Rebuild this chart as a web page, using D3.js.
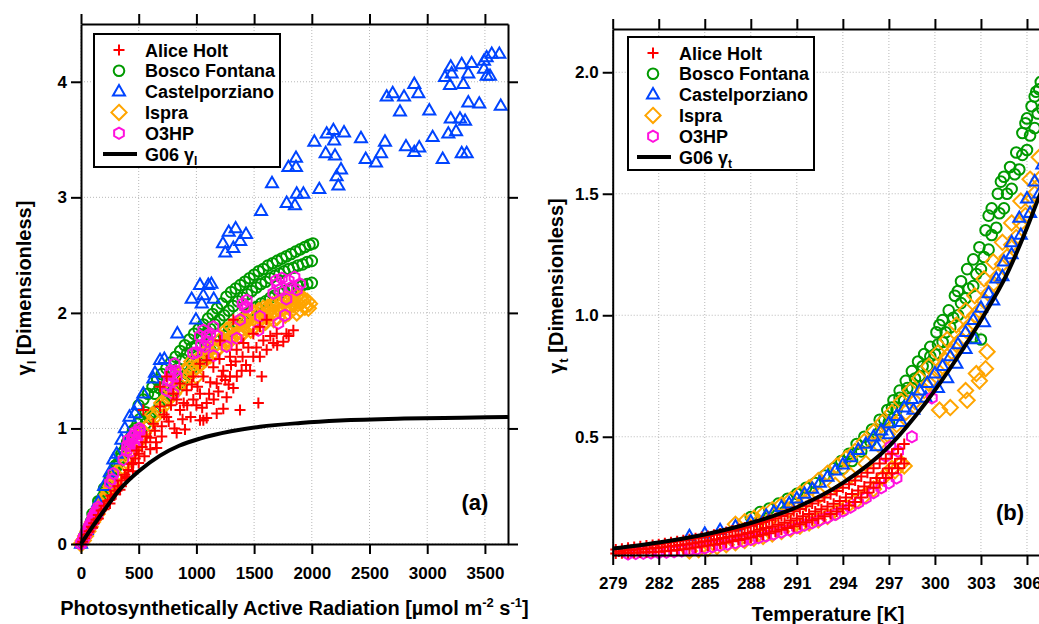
<!DOCTYPE html>
<html>
<head>
<meta charset="utf-8">
<script src="https://cdn.jsdelivr.net/npm/d3@7"></script>
<style>
  body { margin: 0; background: #fff; }
  svg { font-family: "Liberation Sans", Arial, sans-serif; font-weight: bold; }
</style>
</head>
<body>
<svg id="chart" width="1039" height="624"></svg>
<script>
// ---- sites / legend ----
const siteNames = ['Alice Holt', 'Bosco Fontana', 'Castelporziano', 'Ispra', 'O3HP'];
const siteColors = ['#ff0000', '#009a00', '#0044ff', '#ffa500', '#ff11dd'];
const siteShapes = ['cross', 'circle', 'triangle', 'diamond', 'hexagon'];

// ---- panel (a): PAR [umol m-2 s-1] vs gamma_l ----
const parTicks = [0, 500, 1000, 1500, 2000, 2500, 3000, 3500];
const gammaLTicks = [0, 1, 2, 3, 4];

const aliceL = [
  [0,0],[15,0.02],[30,0.05],[50,0.08],[70,0.11],[90,0.15],[100,0.14],[110,0.18],[130,0.21],[150,0.25],[150,0.22],[175,0.29],
  [200,0.33],[200,0.3],[230,0.37],[250,0.38],[251,0.35],[260,0.42],[290,0.46],[300,0.43],[320,0.5],[338,0.47],[350,0.55],[350,0.5],
  [380,0.6],[396,0.58],[400,0.57],[410,0.64],[440,0.69],[450,0.63],[453,0.7],[470,0.74],[482,0.81],[500,0.78],[500,0.7],[530,0.84],
  [540,1.16],[550,0.76],[560,0.88],[569,0.93],[600,0.92],[600,0.82],[627,1.04],[640,0.98],[650,0.88],[656,0.83],[685,1.19],[685,1.36],
  [700,1.02],[700,0.93],[720,1.12],[742,1.1],[742,1.45],[760,1.06],[780,1.2],[800,1.3],[810,1.0],[829,0.96],[829,1.25],[858,1.16],
  [858,1.39],[880,1.08],[890,1.22],[901,0.99],[916,1.33],[920,1.2],[950,1.1],[960,1.38],[973,1.45],[973,1.25],[1000,1.2],[1010,1.36],
  [1031,1.07],[1031,1.3],[1031,1.56],[1050,1.18],[1060,1.07],[1060,1.45],[1089,1.09],[1089,1.22],[1089,1.59],[1110,1.3],[1120,1.4],[1147,1.53],
  [1150,1.25],[1176,1.13],[1176,1.39],[1190,1.32],[1200,1.6],[1205,1.76],[1220,1.45],[1233,1.17],[1233,1.5],[1250,1.42],[1262,1.27],[1280,1.38],
  [1291,1.45],[1291,1.62],[1300,1.55],[1320,1.35],[1320,1.94],[1340,1.58],[1349,1.68],[1350,1.45],[1378,1.16],[1392,1.5],[1400,1.62],[1407,1.74],
  [1430,1.55],[1450,1.7],[1465,1.5],[1493,1.62],[1493,1.82],[1520,1.7],[1537,1.22],[1550,1.62],[1551,1.88],[1566,1.45],[1580,1.76],[1609,1.68],
  [1609,1.94],[1640,1.8],[1667,1.74],[1696,1.82],[1700,1.72],[1753,1.75],[1780,1.82],[1800,1.8],[1840,1.85]
];
const boscoL = [
  [10,0.02],[30,0.07],[50,0.11],[70,0.15],[90,0.2],[100,0.26],[110,0.24],[130,0.28],[150,0.33],[150,0.37],[170,0.37],[190,0.41],
  [200,0.48],[210,0.46],[230,0.5],[250,0.54],[250,0.58],[270,0.58],[290,0.63],[300,0.68],[310,0.67],[330,0.71],[350,0.75],[350,0.78],
  [370,0.8],[390,0.84],[400,0.88],[410,0.88],[430,0.92],[450,0.96],[450,0.98],[470,1.0],[490,1.04],[510,1.08],
  // upper edge
  [500,1.2],[540,1.25],[580,1.3],[620,1.36],[660,1.42],[700,1.47],[740,1.52],[780,1.57],[820,1.62],[860,1.67],[900,1.72],[940,1.77],
  [980,1.82],[1020,1.86],[1060,1.9],[1100,1.95],[1140,1.99],[1180,2.04],[1220,2.08],[1260,2.14],[1300,2.18],[1340,2.21],[1380,2.24],[1420,2.27],
  [1460,2.3],[1500,2.33],[1540,2.36],[1580,2.38],[1620,2.41],[1660,2.43],[1700,2.45],[1740,2.47],[1780,2.49],[1820,2.51],[1860,2.53],[1900,2.55],
  [1940,2.57],[1980,2.59],[2010,2.6],
  // middle
  [560,1.14],[600,1.12],[640,1.3],[680,1.35],[720,1.3],[760,1.42],[800,1.5],[840,1.52],[880,1.6],[920,1.65],[960,1.7],[1000,1.72],
  [1040,1.78],[1080,1.82],[1120,1.86],[1160,1.9],[1200,1.94],[1240,1.98],[1280,2.02],[1320,2.06],[1360,2.1],[1400,2.13],[1440,2.16],[1480,2.19],
  [1520,2.22],[1560,2.25],[1600,2.27],[1640,2.3],[1680,2.32],[1720,2.34],[1760,2.36],[1800,2.38],[1840,2.39],[1880,2.41],[1920,2.42],[1960,2.44],
  [2000,2.45],
  // lower edge
  [520,0.99],[560,1.04],[600,1.09],[640,1.14],[680,1.19],[720,1.24],[760,1.29],[800,1.33],[840,1.38],[880,1.42],[920,1.47],[960,1.52],
  [1000,1.56],[1040,1.6],[1080,1.64],[1120,1.68],[1160,1.72],[1200,1.76],[1240,1.8],[1280,1.84],[1320,1.88],[1360,1.91],[1400,1.95],[1440,1.99],
  [1480,2.02],[1520,2.05],[1560,2.08],[1600,2.1],[1640,2.13],[1680,2.15],[1720,2.17],[1760,2.19],[1800,2.2],[1840,2.21],[1880,2.23],[1920,2.24],
  [1960,2.25],[2000,2.26]
];
const castelL = [
  [0,0],[50,0.12],[100,0.24],[150,0.36],[200,0.5],[250,0.62],[280,0.73],[309,0.78],[350,0.9],[380,1.0],
  [420,1.1],[468,1.13],[491,1.2],[540,1.3],[627,1.43],[641,1.48],[685,1.59],[722,1.6],[835,1.82],[959,2.12],
  [996,1.94],[1031,2.24],[1046,2.08],[1060,2.15],[1103,2.24],[1130,2.25],[1150,2.12],[1230,2.6],[1250,2.52],[1280,2.7],
  [1320,2.56],[1340,2.73],[1380,2.62],[1430,2.68],[1560,2.88],[1655,3.12],
  [1782,2.95],[1854,2.93],[1869,3.03],[1927,3.03],[2065,3.07],[1797,3.26],[1863,3.34],[1863,3.26],[2022,3.48],[2120,3.38],
  [2129,3.55],[2187,3.58],[2193,3.49],[2201,3.36],[2279,3.56],[2215,3.18],[2253,3.24],[2230,3.1],[2426,3.51],[2467,3.33],
  [2556,3.3],[2600,3.38],[2634,3.48],[2649,3.87],[2701,3.9],[2799,3.87],[2764,3.74],[2888,3.98],[2923,3.9],[2816,3.44],
  [2888,3.39],[2931,3.43],[3018,3.75],[3047,3.52],[3134,3.33],[3183,3.55],[3204,3.68],[3250,3.57],[3284,3.68],[3328,3.66],
  [3299,3.38],[3342,3.38],[3356,3.82],[3451,3.81],[3637,3.79],[3154,4.04],[3204,4.13],[3212,4.07],[3197,3.97],[3299,4.15],
  [3313,3.98],[3356,4.07],[3385,4.16],[3492,4.18],[3515,4.21],[3559,4.24],[3625,4.24],[3492,4.11],[3515,4.05],[3544,4.05]
];
const ispraL = [
  [0,0],[20,0.03],[40,0.07],[60,0.11],[80,0.15],[100,0.19],[120,0.22],[140,0.26],[160,0.3],[180,0.34],
  [200,0.38],[220,0.42],[240,0.46],[260,0.5],[280,0.53],[300,0.57],[330,0.62],[360,0.67],[390,0.72],[420,0.77],
  [450,0.82],[480,0.87],[510,0.92],[540,0.96],[570,1.0],[600,1.04],[620,1.12],[640,1.1],[680,1.16],[700,1.22],[720,1.2],[760,1.26],
  [780,1.33],[800,1.3],[840,1.35],[860,1.42],[880,1.4],[900,1.5],[920,1.44],[940,1.52],[960,1.49],[960,1.58],[1000,1.53],[1000,1.45],
  [1020,1.6],[1040,1.56],[1040,1.62],[1080,1.6],[1100,1.68],[1120,1.63],[1140,1.7],[1160,1.67],[1200,1.7],[1220,1.78],[1240,1.74],[1260,1.85],
  [1270,1.74],[1280,1.77],[1300,1.88],[1300,1.78],[1320,1.8],[1330,1.86],[1340,1.9],[1360,1.83],[1370,1.8],[1380,1.93],[1400,1.86],[1400,1.82],
  [1420,1.95],[1430,1.92],[1440,1.88],[1460,1.97],[1470,1.85],[1480,1.9],[1500,2.0],[1500,1.88],[1520,1.93],[1530,1.98],[1540,2.02],[1560,1.95],
  [1570,1.9],[1580,2.04],[1600,1.97],[1600,1.92],[1620,2.05],[1630,2.02],[1640,1.99],[1660,2.07],[1670,1.94],[1680,2.0],[1700,2.09],[1700,1.96],
  [1720,2.02],[1730,2.06],[1740,2.1],[1760,2.04],[1770,1.98],[1780,2.12],[1800,2.05],[1800,2.0],[1820,2.12],[1830,2.09],[1840,2.07],[1860,2.14],
  [1870,2.0],[1880,2.08],[1900,2.13],[1900,2.03],[1920,2.1],[1930,2.12],[1940,2.05],[1960,2.1],[1970,2.04],[1980,2.08]
];
const o3hpL = [
  [0,0],[10,0.02],[20,0.04],[25,0.06],[30,0.06],[40,0.08],[45,0.1],[50,0.1],[60,0.12],[65,0.13],[70,0.15],[80,0.17],
  [85,0.16],[90,0.19],[100,0.22],[107,0.24],[110,0.2],[120,0.26],[125,0.27],[136,0.29],[140,0.25],[150,0.32],[160,0.3],[251,0.53],
  [270,0.56],[280,0.61],[367,0.73],[396,0.81],[400,0.85],[410,0.9],[420,0.85],[430,0.8],[440,0.9],[450,0.93],[460,0.94],[460,0.86],
  [470,0.97],[480,0.88],[490,0.92],[500,0.96],[505,1.0],[511,0.98],[742,1.33],[750,1.38],[760,1.42],[770,1.47],[780,1.5],[790,1.4],
  [800,1.3],[810,1.56],[820,1.5],[829,1.45],[971,1.65],[1002,1.66],[1030,1.8],[1040,1.72],[1060,1.85],[1075,1.71],[1090,1.8],[1100,1.75],
  [1120,1.82],[1147,1.63],[1147,1.88],[1178,1.8],[1262,1.71],[1349,1.78],[1378,1.94],[1400,2.08],[1420,2.05],[1436,2.11],[1440,2.05],[1537,1.85],
  [1551,1.97],[1667,2.17],[1690,2.28],[1700,2.25],[1710,1.91],[1720,2.2],[1740,2.3],[1768,1.98],[1780,2.12],[1800,2.28],[1820,2.22],[1850,2.31],
  [1870,2.2],[1898,2.25]
];
// G06 light response
const g06L = [
  [0,0],[100,0.15],[200,0.29],[338,0.475],[500,0.63],[685,0.765],[850,0.85],[1031,0.912],[1300,0.975],[1551,1.015],
  [1900,1.047],[2244,1.068],[2800,1.085],[3300,1.093],[3700,1.1]
];

// ---- panel (b): temperature [K] vs gamma_t ----
const tempTicks = [279, 282, 285, 288, 291, 294, 297, 300, 303, 306];
const gammaTTicks = [0.5, 1.0, 1.5, 2.0];

const aliceT = [
  // just under the G06 line
  [279.2,0.036],[279.6,0.039],[280.0,0.043],[280.4,0.046],[280.8,0.049],[281.2,0.052],[281.6,0.055],[282.0,0.058],
  [282.4,0.062],[282.8,0.066],[283.2,0.07],[283.6,0.074],[284.0,0.078],[284.4,0.082],[284.8,0.087],[285.2,0.092],
  [285.6,0.097],[286.0,0.102],[286.4,0.108],[286.8,0.114],[287.2,0.12],[287.6,0.127],[288.0,0.134],[288.4,0.141],
  [288.8,0.149],[289.2,0.157],[289.6,0.165],[290.0,0.174],[290.4,0.183],[290.8,0.193],[291.2,0.203],[291.6,0.214],
  [292.0,0.225],[292.4,0.237],[292.8,0.25],[293.2,0.263],[293.6,0.277],[294.0,0.29],[294.4,0.305],[294.8,0.32],
  [295.2,0.336],[295.6,0.352],[296.0,0.37],[296.4,0.39],[296.8,0.41],[297.2,0.43],[297.6,0.45],[298.0,0.47],
  // middle of the band
  [279.4,0.028],[279.8,0.031],[280.2,0.034],[280.6,0.036],[281.0,0.038],[281.4,0.04],[281.8,0.042],[282.2,0.045],
  [282.6,0.048],[283.0,0.051],[283.4,0.055],[283.8,0.058],[284.2,0.062],[284.6,0.066],[285.0,0.07],[285.4,0.074],
  [285.8,0.078],[286.2,0.083],[286.6,0.088],[287.0,0.093],[287.4,0.098],[287.8,0.104],[288.2,0.11],[288.6,0.117],
  [289.0,0.124],[289.4,0.131],[289.8,0.138],[290.2,0.146],[290.6,0.155],[291.0,0.164],[291.4,0.173],[291.8,0.182],
  [292.2,0.192],[292.6,0.202],[293.0,0.213],[293.4,0.224],[293.8,0.236],[294.2,0.25],[294.6,0.264],[295.0,0.279],
  [295.4,0.295],[295.8,0.312],[296.2,0.33],[296.6,0.35],[297.0,0.37],[297.4,0.39],[297.8,0.41],
  // lower edge
  [279.2,0.02],[279.6,0.021],[280.0,0.022],[280.4,0.023],[280.8,0.024],[281.2,0.025],[281.6,0.026],[282.0,0.027],
  [282.4,0.029],[282.8,0.031],[283.2,0.034],[283.6,0.037],[284.0,0.04],[284.4,0.044],[284.8,0.048],[285.2,0.052],
  [285.6,0.056],[286.0,0.06],[286.4,0.065],[286.8,0.07],[287.2,0.075],[287.6,0.08],[288.0,0.085],[288.4,0.091],
  [288.8,0.097],[289.2,0.103],[289.6,0.11],[290.0,0.117],[290.4,0.124],[290.8,0.132],[291.2,0.14],[291.6,0.148],
  [292.0,0.156],[292.4,0.164],[292.8,0.173],[293.2,0.182],[293.6,0.192],[294.0,0.204],[294.4,0.217],[294.8,0.232],
  [295.2,0.25],[295.6,0.27],[296.0,0.29],[296.4,0.31],[296.8,0.33],[297.2,0.35],[297.6,0.37],[298.0,0.39]
];
const boscoT = [
  // upper edge
  [288.0,0.17],[288.6,0.19],[289.2,0.205],[289.8,0.225],[290.4,0.245],[291.0,0.265],[291.6,0.29],[292.2,0.31],
  [292.8,0.34],[293.4,0.37],[293.9,0.4],[294.4,0.43],[294.9,0.47],[295.4,0.5],[295.9,0.53],[296.4,0.57],
  [296.9,0.61],[297.3,0.65],[297.7,0.69],[298.1,0.73],[298.5,0.77],[298.9,0.81],[299.3,0.84],[299.7,0.87],
  [300.1,0.93],[300.5,0.98],[300.9,1.02],[301.3,1.08],[301.7,1.14],[302.1,1.19],[302.5,1.23],[302.9,1.28],
  [303.3,1.35],[303.7,1.44],[304.1,1.5],[304.5,1.57],[304.9,1.61],[305.3,1.67],[305.7,1.75],[306.0,1.81],
  [306.3,1.86],[306.6,1.92],[306.9,1.96],
  [300.3,0.96],[301.5,1.1],[303.5,1.41],[304.3,1.55],[305.9,1.79],[306.5,1.9],[306.8,1.93],
  // middle
  [296.7,0.57],[297.2,0.62],[297.7,0.66],[298.2,0.7],[298.7,0.74],[299.2,0.79],[299.7,0.83],[300.2,0.88],
  [300.7,0.93],[301.2,0.99],[301.7,1.05],[302.2,1.11],[302.7,1.17],[303.2,1.24],[303.7,1.33],[304.2,1.42],
  [304.7,1.5],[305.2,1.58],[305.7,1.66],[306.2,1.74],[306.7,1.83],
  // lower side
  [294.0,0.37],[294.6,0.4],[295.2,0.44],[295.8,0.48],[296.4,0.52],[297.0,0.56],[297.5,0.61],[298.0,0.65],
  [298.5,0.7],[299.0,0.75],[299.5,0.79],[300.0,0.84],[300.5,0.89],[301.0,0.95],[301.5,1.0],[302.0,1.07],
  [302.5,1.12],[303.0,1.19],[303.5,1.27],[304.0,1.36],[304.5,1.44],[305.0,1.52],[305.5,1.6],[306.0,1.68],
  [306.5,1.77],[307.0,1.85],
  [302.5,0.91],[303.0,0.9]
];
const castelT = [
  [284,0.09],[285,0.1],[286,0.115],[287,0.13],[288,0.15],
  [289.0,0.175],[289.5,0.19],[290.0,0.21],[290.5,0.225],[291.0,0.245],[291.5,0.265],[292.0,0.285],[292.5,0.31],
  [293.0,0.335],[293.5,0.36],[294.0,0.385],[294.5,0.415],[295.0,0.445],[295.5,0.47],[296.0,0.5],[296.5,0.525],
  [297.0,0.555],[297.5,0.585],[298.0,0.62],[298.5,0.655],[299.0,0.69],[299.5,0.72],[300.0,0.76],[300.5,0.79],
  [301.0,0.83],[301.5,0.88],[302.0,0.93],[302.5,0.98],[303.0,1.03],[303.5,1.09],[304.0,1.15],[304.5,1.22],
  [305.0,1.3],[305.5,1.4],[306.0,1.48],[306.5,1.55],[307.0,1.62],
  [296.2,0.46],[297.0,0.51],[297.8,0.56],[298.6,0.61],[299.4,0.66],[300.2,0.7],[300.8,0.74],[301.4,0.8],
  [302.0,0.86],[302.6,0.9],[303.2,0.97],[303.8,1.06],[304.4,1.16],[305.0,1.25],[305.6,1.33],[306.2,1.42],[306.8,1.5]
];
const ispraT = [
  // lower edge, under the red band
  [284.0,0.03],[284.6,0.035],[285.2,0.04],[285.8,0.048],[286.4,0.056],[287.0,0.064],[287.6,0.073],[288.2,0.082],
  [288.8,0.09],[289.4,0.1],[290.0,0.11],[290.6,0.12],[291.2,0.132],[291.8,0.145],[292.4,0.158],[293.0,0.172],
  [293.6,0.19],[294.2,0.21],[294.8,0.232],[295.4,0.256],[296.0,0.285],[296.6,0.33],[297.2,0.37],[297.8,0.39],
  // along the G06 line
  [288.5,0.15],[289.5,0.175],[290.5,0.2],[291.5,0.23],[292.5,0.26],[293.5,0.3],[294.5,0.34],[295.5,0.39],
  // upper edge
  [287.0,0.14],[287.6,0.15],[288.2,0.165],[288.8,0.18],[289.4,0.2],[290.0,0.22],[290.6,0.24],[291.2,0.265],
  [291.8,0.29],[292.4,0.32],[293.0,0.35],[293.6,0.38],[294.2,0.41],[294.8,0.44],[295.4,0.48],[296.0,0.52],
  [296.6,0.56],[297.2,0.6],[297.8,0.645],[298.4,0.69],[299.0,0.74],[299.6,0.79],[300.2,0.845],[300.8,0.9],
  [301.4,0.96],[302.0,1.02],[302.6,1.08],[303.2,1.15],[303.8,1.22],[304.4,1.3],[305.0,1.38],[305.6,1.47],
  [306.2,1.56],[306.8,1.65],
  [296.3,0.47],[296.9,0.51],[297.5,0.55],[298.1,0.6],[298.7,0.645],[299.3,0.69],[299.9,0.74],[300.5,0.79],
  [301.1,0.85],[301.7,0.9],[302.3,0.96],[302.9,1.02],[303.5,1.09],[304.1,1.16],[304.7,1.24],[305.3,1.32],
  [305.9,1.41],[306.5,1.5],
  [299.6,0.72],[300.2,0.77],[300.8,0.83],[301.4,0.88],[302.0,0.94],[302.6,1.0],[303.2,1.06],[303.8,1.13],
  [304.4,1.21],[305.0,1.29],[305.6,1.38],[306.2,1.47],[306.8,1.56],
  // below the line
  [297.4,0.36],[298.0,0.38],[300.3,0.61],[301.0,0.62],[302.1,0.65],[302.0,0.69],[302.7,0.76],[302.9,0.73],
  [303.3,0.78],[303.4,0.85]
];
const o3hpT = [
  [280.0,0.018],[280.5,0.02],[281.0,0.021],[281.5,0.022],[282.0,0.023],[282.5,0.025],[283.0,0.027],[283.5,0.03],
  [284.0,0.034],[284.5,0.038],[285.0,0.042],[285.5,0.047],[286.0,0.052],[286.5,0.058],[287.0,0.064],[287.5,0.07],
  [288.0,0.077],[288.5,0.084],[289.0,0.092],[289.5,0.1],[290.0,0.108],[290.5,0.117],[291.0,0.126],[291.5,0.136],
  [292.0,0.146],[292.5,0.157],[293.0,0.168],[293.5,0.18],[294.0,0.194],[294.5,0.21],[295.0,0.228],[295.5,0.248],
  [296.0,0.27],[296.5,0.29],[297.0,0.31],[297.5,0.33],
  [296.8,0.42],[297.1,0.459],[297.6,0.44],[298.5,0.5],[299.8,0.66]
];
// G06 temperature response
const g06T = [
  [279,0.04],[282,0.065],[285,0.098],[288,0.145],[291,0.21],[294,0.31],[297,0.46],[299.4,0.64],[301.4,0.82],[303.1,0.99],
  [304.7,1.17],[306,1.36],[306.8,1.49],[307.5,1.6]
];

// ---- drawing ----
const svg = d3.select('#chart');

const hex = d3.range(6).map((i) => {
  const a = (Math.PI / 3) * i - Math.PI / 2;
  return [5.6 * Math.cos(a), 5.6 * Math.sin(a)];
});
const markerPath = {
  cross: 'M-5.5,0H5.5M0,-5.5V5.5',
  circle: 'M5.3,0A5.3,5.3 0 1,1 -5.3,0A5.3,5.3 0 1,1 5.3,0Z',
  triangle: 'M0,-6.6L6,3.8L-6,3.8Z',
  diamond: 'M0,-7.6L7.6,0L0,7.6L-7.6,0Z',
  hexagon: 'M' + hex.map((p) => p.join(',')).join('L') + 'Z',
};
const drawOrder = [1, 3, 2, 4, 0];

function styleAxis(sel, labelled) {
  sel.attr('font-family', null).attr('font-size', 17).attr('font-weight', 'bold');
  sel.select('.domain').attr('stroke', '#000').attr('stroke-width', 2);
  sel.selectAll('.tick line').attr('stroke', '#000').attr('stroke-width', 2);
  if (!labelled) sel.selectAll('.tick text').remove();
}

function drawPanel(p) {
  const g = svg.append('g');
  const x = d3.scaleLinear().domain(p.xDomain).range([p.left, p.right]);
  const y = d3.scaleLinear().domain(p.yDomain).range([p.bottom, p.top]);

  // dotted grid
  g.append('g').selectAll('line').data(p.xTicks).join('line')
    .attr('x1', (d) => x(d)).attr('x2', (d) => x(d))
    .attr('y1', p.top).attr('y2', p.bottom);
  g.append('g').selectAll('line').data(p.yTicks).join('line')
    .attr('x1', p.left).attr('x2', p.right)
    .attr('y1', (d) => y(d)).attr('y2', (d) => y(d));
  g.selectAll('g line')
    .attr('stroke', '#b8b8b8').attr('stroke-width', 1).attr('stroke-dasharray', '1,2');

  // scatter
  drawOrder.forEach((i) => {
    g.append('g').selectAll('path').data(p.series[i]).join('path')
      .attr('transform', (d) => `translate(${x(d[0])},${y(d[1])})`)
      .attr('d', markerPath[siteShapes[i]])
      .attr('fill', 'none')
      .attr('stroke', siteColors[i])
      .attr('stroke-width', 2);
  });

  // G06 curve
  g.append('path').datum(p.curve)
    .attr('d', d3.line().x((d) => x(d[0])).y((d) => y(d[1])).curve(d3.curveMonotoneX))
    .attr('fill', 'none').attr('stroke', '#000').attr('stroke-width', 4);

  // axes (Igor style: mirrored, ticks outside)
  g.append('g').attr('transform', `translate(0,${p.bottom})`)
    .call(d3.axisBottom(x).tickValues(p.xTicks).tickSize(10).tickSizeOuter(0).tickPadding(p.xPad)
      .tickFormat(d3.format('d')))
    .call(styleAxis, true);
  g.append('g').attr('transform', `translate(0,${p.top})`)
    .call(d3.axisTop(x).tickValues(p.xTicks).tickSize(10).tickSizeOuter(0))
    .call(styleAxis, false);
  g.append('g').attr('transform', `translate(${p.left},0)`)
    .call(d3.axisLeft(y).tickValues(p.yTicks).tickSize(10).tickSizeOuter(0).tickPadding(4)
      .tickFormat(p.yFmt))
    .call(styleAxis, true);
  g.append('g').attr('transform', `translate(${p.right},0)`)
    .call(d3.axisRight(y).tickValues(p.yTicks).tickSize(10).tickSizeOuter(0))
    .call(styleAxis, false);

  // axis titles
  const xt = g.append('text').attr('x', p.xTitleX).attr('y', p.xTitleY)
    .attr('text-anchor', 'middle').attr('font-size', 20);
  p.xTitle(xt);
  const yt = g.append('text')
    .attr('transform', `translate(${p.yTitleX},${p.yTitleY}) rotate(-90)`)
    .attr('text-anchor', 'middle').attr('font-size', 20);
  yt.append('tspan').text('γ');
  yt.append('tspan').attr('font-size', 13).attr('dy', 5).text(p.sub);
  yt.append('tspan').attr('dy', -5).text(' [Dimensionless]');

  // panel tag
  g.append('text').attr('x', p.tagX).attr('y', p.tagY)
    .attr('text-anchor', 'middle').attr('font-size', 22).text(p.tag);

  // legend
  const lg = g.append('g').attr('transform', `translate(${p.legX},${p.legY})`);
  lg.append('rect').attr('width', 186).attr('height', 133)
    .attr('fill', '#fff').attr('stroke', '#000').attr('stroke-width', 2);
  siteNames.forEach((name, i) => {
    const cy = 16 + i * 20.8;
    lg.append('path').attr('transform', `translate(25,${cy})`)
      .attr('d', markerPath[siteShapes[i]])
      .attr('fill', 'none').attr('stroke', siteColors[i]).attr('stroke-width', 2);
    lg.append('text').attr('x', 51).attr('y', cy + 6.5).attr('font-size', 18).text(name);
  });
  const cy = 16 + 5 * 20.8;
  lg.append('line').attr('x1', 9).attr('x2', 43).attr('y1', cy).attr('y2', cy)
    .attr('stroke', '#000').attr('stroke-width', 4);
  const lt = lg.append('text').attr('x', 51).attr('y', cy + 6.5).attr('font-size', 18);
  lt.append('tspan').text('G06 γ');
  lt.append('tspan').attr('font-size', 12).attr('dy', 4).text(p.sub);
}

drawPanel({
  left: 81, right: 508, top: 24, bottom: 544,
  xDomain: [0, 3700], yDomain: [0, 4.5],
  xTicks: parTicks, yTicks: gammaLTicks, yFmt: d3.format('d'), xPad: 13,
  series: [aliceL, boscoL, castelL, ispraL, o3hpL], curve: g06L,
  sub: 'l', tag: '(a)', tagX: 475, tagY: 510,
  legX: 94, legY: 34,
  xTitleX: 294.5, xTitleY: 615,
  xTitle: (t) => {
    t.append('tspan').text('Photosynthetically Active Radiation [µmol m');
    t.append('tspan').attr('font-size', 13).attr('dy', -8).text('-2');
    t.append('tspan').attr('dy', 8).text(' s');
    t.append('tspan').attr('font-size', 13).attr('dy', -8).text('-1');
    t.append('tspan').attr('dy', 8).text(']');
  },
  yTitleX: 31, yTitleY: 288,
});

drawPanel({
  left: 612.7, right: 1050, top: 29, bottom: 555,
  xDomain: [279, 307.5], yDomain: [0.0134, 2.178],
  xTicks: tempTicks, yTicks: gammaTTicks, yFmt: d3.format('.1f'), xPad: 12,
  series: [aliceT, boscoT, castelT, ispraT, o3hpT], curve: g06T,
  sub: 't', tag: '(b)', tagX: 1010, tagY: 520,
  legX: 628, legY: 37,
  xTitleX: 828, xTitleY: 621,
  xTitle: (t) => t.text('Temperature [K]'),
  yTitleX: 563, yTitleY: 286,
});
</script>
</body>
</html>
